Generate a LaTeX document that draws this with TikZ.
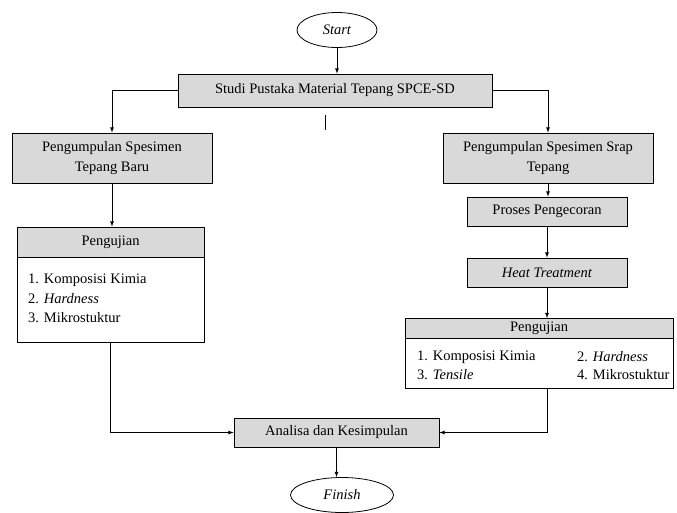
\documentclass[tikz,border=0pt]{standalone}
\usepackage{fontspec}
\setmainfont{Liberation Serif}
\usetikzlibrary{shapes.geometric}
\definecolor{boxgray}{RGB}{217,217,217}

\begin{document}
\begin{tikzpicture}[x=1pt, y=-1pt, font=\fontsize{14.5}{20}\selectfont,
    box/.style={draw, fill=boxgray, line width=0.8pt, inner sep=0pt, align=center},
    listbox/.style={draw, fill=white, line width=0.8pt, inner sep=0pt},
    term/.style={draw, ellipse, line width=0.8pt, inner sep=0pt, minimum height=35pt},
    item/.style={anchor=west, inner sep=0pt},
    arr/.style={-latex, line width=0.8pt}]
      \useasboundingbox (0,0) rectangle (677,512);

      % Start and first step
      \node[term, minimum width=80pt] (start) at (337,30) {\textit{Start}};
      \node[box, minimum width=314pt, minimum height=33pt] (studi) at (335,90.5) {Studi Pustaka Material Tepang SPCE-SD};

      % Left branch
      \node[box, minimum width=200pt, minimum height=50pt] (baru) at (112,158) {Pengumpulan Spesimen\\Tepang Baru};
      \node[box, minimum width=187pt, minimum height=30pt] (pengLh) at (110.5,242) {Pengujian};
      \node[listbox, minimum width=187pt, minimum height=85pt] (pengLb) at (110.5,299.5) {};
      \node[item] (itemLa) at (28,280) {1. Komposisi Kimia};
      \node[item] (itemLb) at (28,299) {2. \textit{Hardness}};
      \node[item] (itemLc) at (28,318) {3. Mikrostuktur};

      % Right branch
      \node[box, minimum width=210pt, minimum height=50pt] (srap) at (548,158) {Pengumpulan Spesimen Srap\\Tepang};
      \node[box, minimum width=160pt, minimum height=29pt] (proses) at (547,211.5) {Proses Pengecoran};
      \node[box, minimum width=160pt, minimum height=29pt] (heat) at (547,272.5) {\textit{Heat Treatment}};
      \node[box, minimum width=268pt, minimum height=20pt] (pengRh) at (539,328.5) {Pengujian};
      \node[listbox, minimum width=268pt, minimum height=50pt] (pengRb) at (539,363.5) {};
      \node[item] (itemRa) at (417,357) {1. Komposisi Kimia};
      \node[item] (itemRb) at (577,357) {2. \textit{Hardness}};
      \node[item] (itemRc) at (417,375) {3. \textit{Tensile}};
      \node[item] (itemRd) at (577,375) {4. Mikrostuktur};

      % End
      \node[box, minimum width=205pt, minimum height=29pt] (analisa) at (336.5,432.5) {Analisa dan Kesimpulan};
      \node[term, minimum width=103pt] (finish) at (342,495) {\textit{Finish}};

      % Connectors
      \draw[arr] (start.south) -- (start.south |- studi.north);
      \draw[arr] (studi.west) -| (baru.north);
      \draw[arr] (studi.east) -| (srap.north);
      \draw[arr] (baru.south) -- (baru.south |- pengLh.north);
      \draw[arr] (srap.south) -- (srap.south |- proses.north);
      \draw[arr] (proses.south) -- (proses.south |- heat.north);
      \draw[arr] (heat.south) -- (heat.south |- pengRh.north);
      \draw[arr] (pengLb.south) |- (analisa.west);
      \draw[arr] (pengRb.south -| heat.south) |- (analisa.east);
      \draw[arr] (analisa.south) -- (analisa.south |- finish.north);

      % short stray mark under the first box
      \coordinate (markA) at (325,115);
      \coordinate (markB) at (325,130);
      \draw[line width=0.8pt] (markA) -- (markB);
\end{tikzpicture}
\end{document}
